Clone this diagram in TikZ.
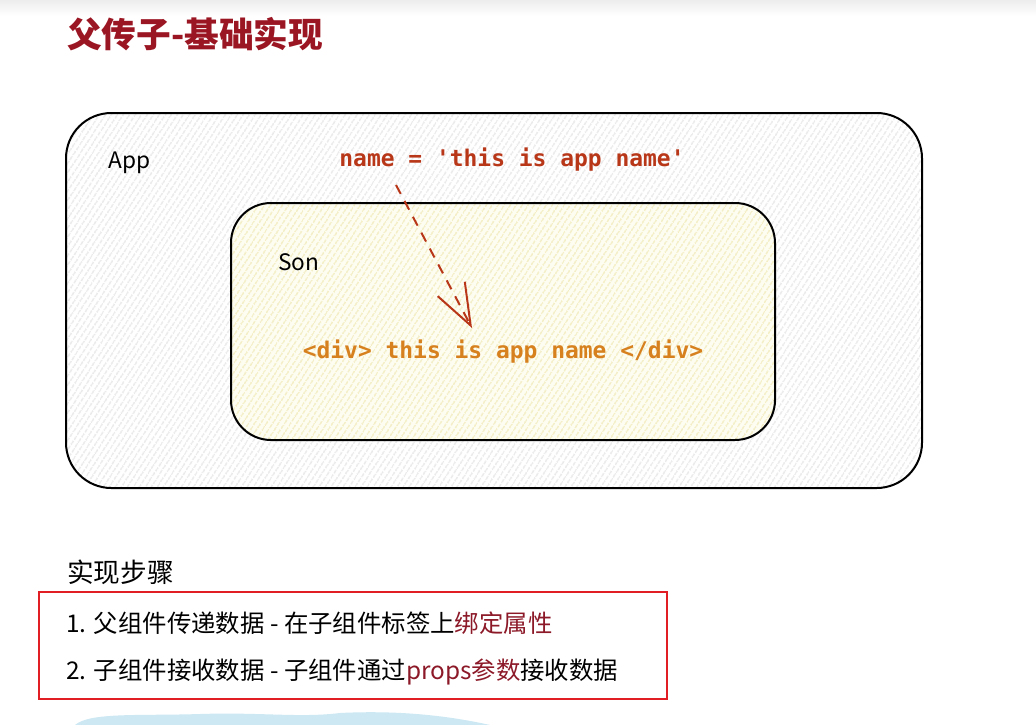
\documentclass[tikz,border=0pt]{standalone}
\usepackage{fontspec}
\setmainfont{Noto Sans CJK SC}
\newfontfamily\codefont{DejaVu Sans Mono}
\usepackage{xcolor}
\definecolor{titlered}{RGB}{155,22,35}
\definecolor{propred}{RGB}{185,55,25}
\definecolor{divorange}{RGB}{214,128,30}
\definecolor{keyred}{RGB}{140,25,40}
\definecolor{boxred}{RGB}{225,30,35}
\definecolor{sonfill}{RGB}{254,253,242}
\definecolor{sonhatch}{RGB}{243,238,196}
\definecolor{apphatch}{RGB}{234,234,234}
\definecolor{blob}{RGB}{205,232,243}
\usepackage{tikz}
\usetikzlibrary{arrows.meta,patterns.meta,positioning,calc}

\begin{document}
\begin{tikzpicture}[x=0.75pt,y=-0.75pt,
  lbl/.style={anchor=west,inner sep=0pt,font=\fontsize{17}{20}\selectfont},
  code/.style={inner sep=0pt,font=\codefont\bfseries\fontsize{17.2}{20}\selectfont},
  item/.style={anchor=west,inner sep=0pt,font=\fontsize{18.3}{22}\selectfont},
  hatch/.style={pattern={Lines[angle=57,distance=4pt,line width=1.2pt]}}]
  \useasboundingbox (0,0) rectangle (1036,725);
  \shade[top color=black!7,bottom color=white] (0,0) rectangle (1036,16);
  \node[anchor=west,inner sep=0pt,text=titlered,font=\bfseries\fontsize{26}{30}\selectfont] (title) at (67,34) {父传子-基础实现};
  % boxes
  \draw[line width=1.5pt,rounded corners=34pt,preaction={fill=white},hatch,pattern color=apphatch] (66,113) rectangle (922,488);
  \draw[line width=1.5pt,rounded corners=30pt,preaction={fill=sonfill},hatch,pattern color=sonhatch] (231,203) rectangle (775,440);
  \node[lbl] (applabel) at (108,163) {App};
  \node[lbl] (sonlabel) at (278,262) {Son};
  \node[code,text=propred] (propval) at (512,160) {name = 'this is app name'};
  \node[code,text=divorange] (divtext) at (503,352) {<div> this is app name </div>};
  \coordinate (arrfrom) at (396,185);
  \coordinate (arrto) at (472,328);
  \draw[propred,line width=1.5pt,dash pattern=on 7.5pt off 6pt,-{Straight Barb[length=31pt,width=23pt,line width=1.5pt]}] (arrfrom) -- (arrto);
  % steps
  \node[anchor=west,inner sep=0pt,font=\fontsize{20}{24}\selectfont] (steps) at (67,572) {实现步骤};
  \draw[boxred,line width=1.5pt] (39,592) rectangle (667,699);
  \node[item] (stepone) at (66,623) {1. 父组件传递数据 - 在子组件标签上\textcolor{keyred}{绑定属性}};
  \node[item] (steptwo) at (66,672) {2. 子组件接收数据 - 子组件通过\textcolor{keyred}{props参数}接收数据};
  \fill[blob] (75,725) .. controls (90,712) and (140,716) .. (200,714) .. controls (260,712) and (300,718) .. (340,713) .. controls (400,710) and (450,716) .. (490,725) -- cycle;
\end{tikzpicture}
\end{document}
